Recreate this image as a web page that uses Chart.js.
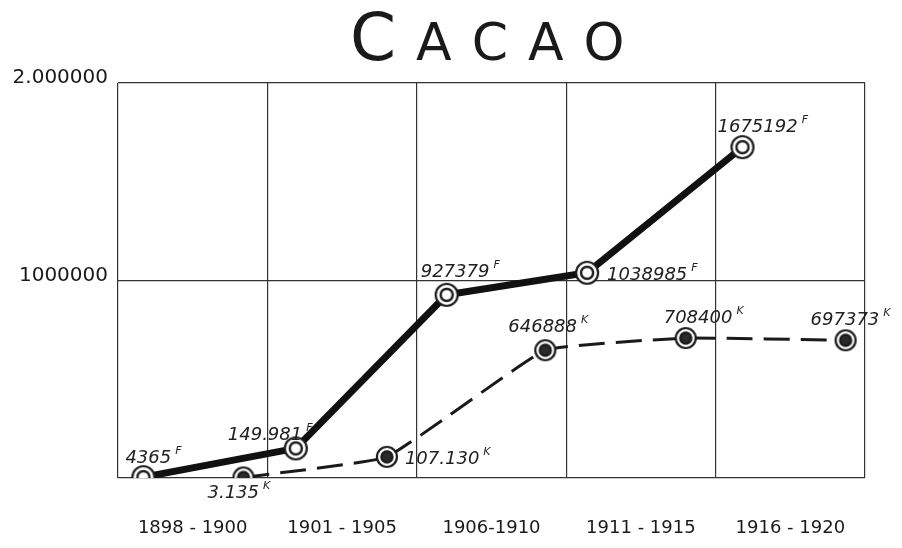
<!DOCTYPE html>
<html>
<head>
<meta charset="utf-8">
<script src="https://cdn.jsdelivr.net/npm/chart.js@4"></script>
<style>
  html, body { margin: 0; padding: 0; background: #fff; }
  #wrap { width: 902px; height: 548px; position: relative; }
</style>
</head>
<body>
<div id="wrap"><canvas id="cacao"></canvas></div>
<script>
// periods on the x axis (one grid cell each)
const periods = ["1898 - 1900", "1901 - 1905", "1906-1910", "1911 - 1915", "1916 - 1920"];
const yTickLabels = { 1000000: "1000000", 2000000: "2.000000" };

// series "F" (solid line): position inside the period grid, value
const fPos = [0.17, 1.19, 2.2, 3.14, 4.18];
const fValues = [4365, 149981, 927379, 1038985, 1675192];
const fLabels = ["4365", "149.981", "927379", "1038985", "1675192"];

// series "K" (dashed line)
const kPos = [0.84, 1.8, 2.86, 3.8, 4.87];
const kValues = [3135, 107130, 646888, 708400, 697373];
const kLabels = ["3.135", "107.130", "646888", "708400", "697373"];

const ink = "#1c1c1c";

function ringPoint(filled, r) {
  const s = r * 2 + 4;
  const c = document.createElement("canvas");
  c.width = s; c.height = s;
  const g = c.getContext("2d");
  const m = s / 2;
  g.fillStyle = "#fff";
  g.beginPath(); g.arc(m, m, r, 0, Math.PI * 2); g.fill();
  g.lineWidth = 2.2; g.strokeStyle = ink; g.stroke();
  g.beginPath(); g.arc(m, m, r * 0.55, 0, Math.PI * 2);
  if (filled) { g.fillStyle = "#2a2a2a"; g.fill(); }
  g.lineWidth = 2.4; g.stroke();
  return c;
}

// label placement relative to each point: [dx, dy]
const fOffsets = [[-18, -14], [-68, -8], [-26, -18], [20, 7], [-25, -15]];
const kOffsets = [[-36, 21], [18, 7], [-37, -18], [-22, -15], [-35, -15]];

const labelPlugin = {
  id: "pointLabels",
  afterDatasetsDraw(chart) {
    const ctx = chart.ctx;
    const sets = [[0, fLabels, fOffsets, "F"], [1, kLabels, kOffsets, "K"]];
    ctx.save();
    ctx.fillStyle = "#222";
    ctx.textBaseline = "alphabetic";
    ctx.textAlign = "left";
    sets.forEach(([idx, labels, offs, sup]) => {
      const meta = chart.getDatasetMeta(idx);
      meta.data.forEach((pt, i) => {
        const x = pt.x + offs[i][0];
        const y = pt.y + offs[i][1];
        ctx.font = "italic 18px 'DejaVu Sans'";
        ctx.fillText(labels[i], x, y);
        const w = ctx.measureText(labels[i]).width;
        ctx.font = "italic 11px 'DejaVu Sans'";
        ctx.fillText(sup, x + w + 4, y - 9);
      });
    });
    ctx.restore();
  }
};

const titlePlugin = {
  id: "cacaoTitle",
  afterDraw(chart) {
    const ctx = chart.ctx;
    ctx.save();
    ctx.fillStyle = "#1a1a1a";
    ctx.textBaseline = "alphabetic";
    ctx.textAlign = "left";
    const letters = [["C", 66], ["A", 52], ["C", 52], ["A", 52], ["O", 52]];
    let x = 350;
    letters.forEach(([ch, size]) => {
      ctx.font = "normal " + size + "px 'DejaVu Sans'";
      ctx.fillText(ch, x, 60);
      x += ctx.measureText(ch).width + 20;
    });
    ctx.restore();
  }
};

new Chart(document.getElementById("cacao"), {
  type: "line",
  data: {
    datasets: [
      {
        label: "F",
        data: fPos.map((p, i) => ({ x: p, y: fValues[i] })),
        borderColor: "#111",
        borderWidth: 7,
        tension: 0,
        pointStyle: ringPoint(false, 11),
        pointRadius: 2,
        order: 0
      },
      {
        label: "K",
        data: kPos.map((p, i) => ({ x: p, y: kValues[i] })),
        borderColor: "#1a1a1a",
        borderWidth: 3,
        borderDash: [26, 11],
        tension: 0.1,
        pointStyle: ringPoint(true, 10),
        pointRadius: 2,
        order: 1
      }
    ]
  },
  options: {
    responsive: true,
    maintainAspectRatio: false,
    animation: false,
    layout: { padding: { top: 83, right: 37, left: 0, bottom: 0 } },
    plugins: { legend: { display: false }, tooltip: { enabled: false } },
    scales: {
      x: {
        type: "linear",
        min: 0,
        max: 5,
        border: { display: false },
        grid: {
          drawTicks: false,
          lineWidth: 1.2,
          color: (c) => (c.tick && Number.isInteger(c.tick.value) ? "#333" : "rgba(0,0,0,0)")
        },
        ticks: {
          stepSize: 0.5,
          autoSkip: false,
          maxRotation: 0,
          padding: 40,
          color: "#1a1a1a",
          font: { family: "'DejaVu Sans'", size: 18 },
          callback: (v) => (Number.isInteger(v) ? "" : periods[Math.floor(v)])
        },
        afterFit: (s) => { s.height = 70; s.paddingLeft = 0; s.paddingRight = 0; }
      },
      y: {
        min: 0,
        max: 2000000,
        border: { display: false },
        grid: { drawTicks: false, lineWidth: 1.2, color: "#333" },
        ticks: {
          stepSize: 1000000,
          padding: 10,
          labelOffset: -5,
          color: "#1a1a1a",
          font: { family: "'DejaVu Sans'", size: 20 },
          callback: (v) => yTickLabels[v] || ""
        },
        afterFit: (s) => { s.width = 118; }
      }
    }
  },
  plugins: [labelPlugin, titlePlugin]
});
</script>
</body>
</html>
